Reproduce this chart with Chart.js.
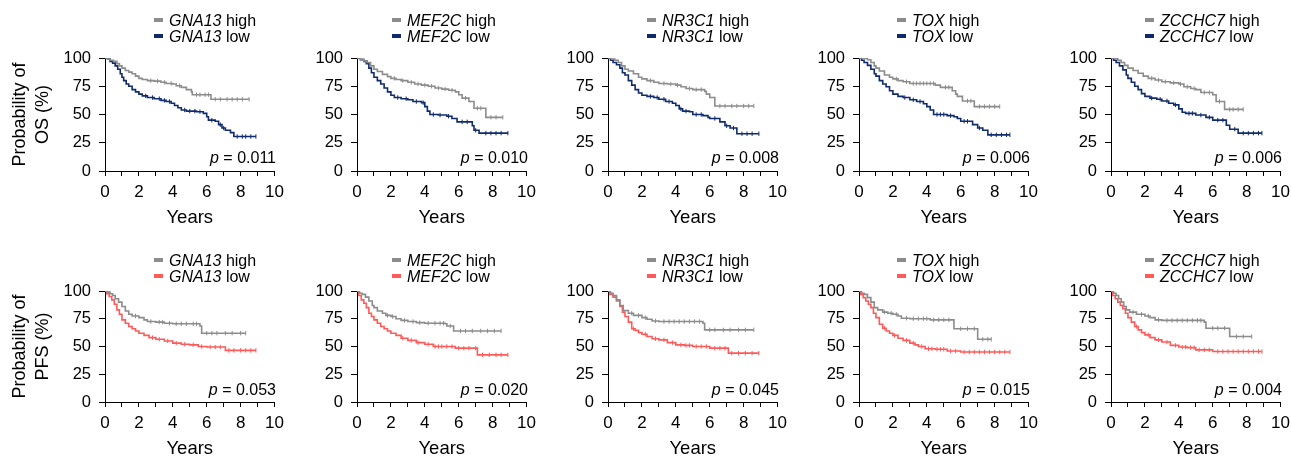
<!DOCTYPE html>
<html>
<head>
<meta charset="utf-8">
<script src="https://cdn.jsdelivr.net/npm/chart.js@4.4.1/dist/chart.umd.min.js"></script>
<style>
  html, body { margin: 0; padding: 0; background: #fff; overflow: hidden; }
  body { width: 1291px; height: 457px; position: relative; font-family: "Liberation Sans", Arial, sans-serif; color: #000; }
  canvas { position: absolute; }
  .leg { position: absolute; font-size: 16px; line-height: 16px; white-space: nowrap; }
  .sw { display: inline-block; width: 9px; height: 4px; margin-right: 6px; vertical-align: middle; position: relative; top: -1px; }
  .pv { position: absolute; font-size: 16px; line-height: 16px; text-align: right; width: 120px; white-space: nowrap; }
</style>
</head>
<body>
<script>
// ---------------- DATA ----------------
const genes = ['GNA13', 'MEF2C', 'NR3C1', 'TOX', 'ZCCHC7'];
const osP = ['0.011', '0.010', '0.008', '0.006', '0.006'];
const pfsP = ['0.053', '0.020', '0.045', '0.015', '0.004'];
const xTicks = [0, 2, 4, 6, 8, 10];
const yTicks = [0, 25, 50, 75, 100];

// Kaplan–Meier step points [years, % surviving]; censor marks in years
const osGNA13High = [[0,100],[0.15,99],[0.3,98],[0.5,97],[0.7,95],[0.85,93],[1.0,91],[1.2,89],[1.4,87.5],[1.6,86],[1.8,84],[2.0,82],[2.2,81],[2.5,80],[2.9,79.5],[3.3,78.5],[3.6,77.5],[4.0,77],[4.2,75.5],[4.5,74],[4.8,72],[5.1,70],[5.15,67.5],[6.25,63.5],[8.5,63.5]];
const osGNA13HighC = [2.7,3.1,3.5,3.9,4.4,5.4,5.6,5.9,6.1,6.5,6.8,7.2,7.5,7.8,8.1,8.5];
const osGNA13Low = [[0,100],[0.15,99],[0.3,97],[0.45,95.5],[0.6,93],[0.75,90],[0.9,86],[1.0,83],[1.1,80],[1.25,77],[1.4,75],[1.6,72],[1.8,70],[2.0,68],[2.2,66.5],[2.5,65],[2.9,64],[3.3,62.5],[3.6,61.5],[3.9,60],[4.1,58],[4.3,56],[4.5,54],[4.8,53],[5.4,52.5],[5.8,51],[6.0,48],[6.1,45],[6.5,44],[6.7,41],[6.9,38],[7.1,36],[7.4,34],[7.6,30.5],[8.9,30.5]];
const osGNA13LowC = [2.4,2.8,3.2,3.5,3.8,4.7,5.0,5.3,5.6,6.3,6.8,7.0,7.8,8.1,8.3,8.6,8.9];

const osMEF2CHigh = [[0,100],[0.2,99],[0.4,97.5],[0.6,96],[0.8,93],[1.0,90],[1.2,88],[1.5,85.5],[1.8,83.5],[2.0,82],[2.3,81],[2.6,80],[3.0,78.5],[3.4,77],[3.8,76],[4.2,75],[4.6,73.5],[5.0,72.5],[5.4,71.5],[5.8,70],[6.0,67.5],[6.2,64.5],[6.6,61.5],[6.9,55.5],[7.6,47.5],[8.6,47.5]];
const osMEF2CHighC = [2.2,2.7,3.2,3.6,4.0,4.4,4.8,5.2,5.6,6.4,7.1,7.3,7.9,8.2,8.6];
const osMEF2CLow = [[0,100],[0.2,98.5],[0.4,97],[0.55,95],[0.7,91],[0.85,87],[1.0,83],[1.2,80],[1.4,77],[1.6,73.5],[1.8,70],[2.0,67],[2.2,65],[2.6,64],[3.0,63],[3.3,61.5],[3.8,60.5],[4.0,57],[4.15,53],[4.3,50],[4.8,49.5],[5.3,48.5],[5.6,46.5],[5.9,43.5],[6.8,40],[6.9,36],[7.2,33.5],[8.9,33.5]];
const osMEF2CLowC = [2.4,2.9,3.5,3.9,4.5,4.9,5.4,6.2,6.5,7.0,7.6,7.9,8.2,8.5,8.9];

const osNR3C1High = [[0,100],[0.2,99],[0.4,98],[0.6,96],[0.8,93],[1.0,90],[1.2,88.5],[1.5,86],[1.8,83],[2.0,81.5],[2.3,80],[2.7,78.5],[3.0,77.5],[3.5,77],[4.0,76],[4.3,74.5],[4.6,73],[5.0,72],[5.7,70.5],[5.8,68],[6.0,65],[6.3,57.5],[8.6,57.5]];
const osNR3C1HighC = [2.5,3.3,3.7,4.1,4.8,5.2,5.5,6.6,6.9,7.3,7.6,8.0,8.3,8.6];
const osNR3C1Low = [[0,100],[0.15,98],[0.3,96],[0.5,94],[0.7,91],[0.85,87],[1.0,85],[1.2,80],[1.4,76],[1.6,72],[1.8,69],[2.0,67],[2.3,66],[2.7,65],[3.0,63.5],[3.4,61.5],[3.8,60],[4.0,58],[4.2,55],[4.4,53],[4.8,52.5],[5.0,50],[5.6,49],[5.9,47.5],[6.0,46.5],[6.6,43.5],[6.9,40],[7.2,38],[7.6,33],[8.9,33]];
const osNR3C1LowC = [2.5,2.9,3.3,3.6,4.3,4.6,5.2,5.5,6.3,7.0,7.4,7.9,8.2,8.5,8.9];

const osTOXHigh = [[0,100],[0.3,99.5],[0.5,98.5],[0.7,96],[0.9,93],[1.0,91],[1.2,88.5],[1.5,85],[1.8,83],[2.0,81.5],[2.3,80],[2.6,79],[3.0,77.5],[4.5,76],[4.8,74],[5.5,71],[5.7,68],[5.8,66],[6.1,62],[6.8,57],[8.3,57]];
const osTOXHighC = [2.2,2.8,3.2,3.4,3.6,3.8,4.0,4.2,4.4,5.1,5.3,6.4,6.6,7.1,7.4,7.7,8.0,8.3];
const osTOXLow = [[0,100],[0.15,98],[0.3,96],[0.5,93.5],[0.7,90],[0.9,86],[1.0,84],[1.2,80],[1.4,77],[1.6,74.5],[1.8,71],[2.0,68],[2.3,66],[2.6,65],[3.0,63],[3.4,61.5],[3.8,59.5],[4.0,57],[4.2,54],[4.4,50],[5.2,49],[5.6,48],[5.8,46.5],[6.0,44],[6.7,41],[7.0,38],[7.3,36],[7.6,32],[8.9,32]];
const osTOXLowC = [2.7,3.2,3.6,4.6,4.8,5.0,5.4,6.2,6.4,7.1,7.8,8.1,8.4,8.7,8.9];

const osZCCHC7High = [[0,100],[0.2,99.5],[0.4,98],[0.6,96],[0.8,93.5],[1.0,91],[1.3,89],[1.6,86.5],[1.9,84],[2.2,82],[2.6,80.5],[3.0,79],[3.5,78],[4.0,77],[4.3,74.5],[4.7,73],[5.0,72],[5.3,69.5],[6.0,67.5],[6.2,61.5],[6.7,54.5],[7.8,54.5]];
const osZCCHC7HighC = [2.4,2.8,3.2,3.7,4.1,4.5,4.9,5.5,5.8,6.4,7.0,7.2,7.5,7.8];
const osZCCHC7Low = [[0,100],[0.15,98],[0.3,96],[0.5,93],[0.7,89.5],[0.9,85],[1.0,82],[1.2,78.5],[1.4,75],[1.6,72],[1.8,68.5],[2.0,66],[2.3,64.5],[2.7,63.5],[3.0,62],[3.4,60],[3.7,58.5],[4.0,55],[4.2,52],[4.4,51],[5.0,49.5],[5.6,47.5],[6.0,45],[6.8,40.5],[7.0,37],[7.5,33.5],[8.9,33.5]];
const osZCCHC7LowC = [2.4,2.9,3.3,3.8,4.6,4.8,5.3,5.8,6.3,6.6,7.3,7.8,8.1,8.4,8.7,8.9];

const pfsGNA13High = [[0,100],[0.15,99],[0.3,97.5],[0.45,96],[0.6,93],[0.8,90],[1.0,86],[1.2,82],[1.4,79],[1.6,77.5],[2.0,76],[2.3,74],[2.5,72.5],[3.0,72],[3.5,71],[4.0,70.5],[5.6,68.5],[5.7,62],[8.3,62]];
const pfsGNA13HighC = [1.8,2.7,3.2,3.4,3.8,4.2,4.5,4.8,5.2,5.4,6.0,6.3,6.6,7.1,7.5,8.0,8.3];
const pfsGNA13Low = [[0,100],[0.1,97.5],[0.25,95],[0.4,92],[0.55,88],[0.7,83],[0.85,79],[1.0,74],[1.2,71],[1.4,68],[1.6,66],[1.8,64],[2.0,62],[2.3,60],[2.6,58],[3.0,56.5],[3.5,55],[4.0,53],[4.5,52],[5.0,51.5],[5.5,50],[6.0,49.5],[7.1,46.5],[8.9,46.5]];
const pfsGNA13LowC = [2.8,3.2,3.7,4.2,4.7,5.2,5.7,6.2,6.5,6.8,7.3,7.6,8.0,8.3,8.6,8.9];

const pfsMEF2CHigh = [[0,100],[0.15,98],[0.3,97],[0.5,94.5],[0.7,91],[0.9,87],[1.0,85],[1.2,82],[1.5,80],[1.7,78],[2.0,77],[2.3,75],[2.6,73.5],[3.0,72.5],[3.5,71.5],[4.0,71],[5.2,70.5],[5.3,68.5],[5.7,64],[8.5,64]];
const pfsMEF2CHighC = [1.8,2.1,2.8,3.3,3.7,4.2,4.6,4.9,5.1,5.5,6.1,6.4,6.8,7.3,7.7,8.1,8.5];
const pfsMEF2CLow = [[0,100],[0.1,96],[0.25,92],[0.4,89],[0.55,85],[0.7,80],[0.85,77],[1.0,74],[1.2,71],[1.4,68],[1.6,66],[1.8,64],[2.0,62],[2.3,60],[2.6,57.5],[3.0,55.5],[3.5,53.5],[4.0,52],[4.5,50],[5.8,48.5],[7.1,42.5],[8.9,42.5]];
const pfsMEF2CLowC = [2.7,3.2,3.6,4.2,4.6,4.8,5.0,5.3,5.6,6.0,6.3,6.6,7.0,7.4,7.8,8.2,8.5,8.9];

const pfsNR3C1High = [[0,100],[0.15,98],[0.3,96],[0.5,92],[0.7,87],[0.9,82.5],[1.2,80],[1.5,78],[2.0,76],[2.3,74.5],[2.6,73],[3.0,72.5],[5.6,71],[5.7,65],[8.6,65]];
const pfsNR3C1HighC = [1.4,1.8,2.2,2.8,3.3,3.6,3.9,4.2,4.5,4.8,5.1,5.4,6.0,6.3,6.8,7.2,7.7,8.1,8.6];
const pfsNR3C1Low = [[0,100],[0.1,97],[0.3,94.5],[0.5,91],[0.7,86],[0.85,81],[1.0,77],[1.2,72],[1.4,66],[1.6,64.5],[1.8,62.5],[2.0,61],[2.3,59],[2.6,57],[3.0,56],[3.5,53.5],[4.0,51.5],[4.5,51],[5.0,50],[6.0,48.5],[7.1,44],[8.9,44]];
const pfsNR3C1LowC = [1.5,2.2,2.8,3.3,3.8,4.3,4.6,4.8,5.2,5.5,5.8,6.3,6.6,6.9,7.3,7.7,8.1,8.5,8.9];

const pfsTOXHigh = [[0,100],[0.15,98],[0.3,97],[0.5,94],[0.7,90],[0.9,85],[1.1,83],[1.4,81],[1.7,80],[2.0,79],[2.3,77.5],[2.5,75.5],[3.0,75],[4.2,74],[5.6,66],[7.0,56.5],[7.8,56.5]];
const pfsTOXHighC = [1.5,1.9,2.2,2.8,3.2,3.5,3.8,4.0,4.4,4.7,5.0,5.3,6.0,6.4,6.8,7.3,7.6,7.8];
const pfsTOXLow = [[0,100],[0.1,97],[0.25,94],[0.4,91],[0.55,88],[0.7,85],[0.85,80],[1.0,76],[1.2,70],[1.4,66.5],[1.6,64],[1.8,62],[2.0,60],[2.3,57.5],[2.6,55.5],[3.0,53],[3.3,51.5],[3.5,50],[3.9,48],[4.5,47.5],[5.2,46],[6.0,45],[8.9,45]];
const pfsTOXLowC = [1.5,2.1,2.8,3.2,3.7,4.1,4.3,4.6,4.8,5.0,5.4,5.7,6.2,6.5,6.8,7.1,7.4,7.7,8.0,8.3,8.6,8.9];

const pfsZCCHC7High = [[0,100],[0.15,98],[0.3,96],[0.45,93],[0.6,90],[0.75,86],[0.9,83],[1.1,81],[1.5,79],[2.0,77.5],[2.3,76],[2.6,74],[3.0,73.5],[5.5,72],[5.6,66.5],[7.0,59],[8.3,59]];
const pfsZCCHC7HighC = [1.3,1.8,2.2,2.8,3.3,3.6,3.9,4.2,4.5,4.8,5.1,5.3,6.0,6.3,6.7,7.4,7.8,8.3];
const pfsZCCHC7Low = [[0,100],[0.1,96],[0.25,93],[0.4,90],[0.55,87],[0.7,84],[0.85,80],[1.0,76],[1.2,72],[1.4,68],[1.6,65],[1.8,62.5],[2.0,60.5],[2.3,58],[2.6,56],[3.0,54],[3.5,51],[4.0,49.5],[4.5,49],[5.0,47],[6.0,45.5],[8.9,45.5]];
const pfsZCCHC7LowC = [1.5,2.2,2.8,3.3,3.8,4.2,4.4,4.7,4.9,5.2,5.5,5.8,6.3,6.6,6.9,7.2,7.5,7.8,8.1,8.4,8.7,8.9];

// ---------------- LAYOUT / STYLE ----------------
const FONT = '"Liberation Sans", Arial, sans-serif';
Chart.defaults.font.family = FONT;
Chart.defaults.color = '#000';

const HIGH_COLOR = '#8c8c8c';
const OS_LOW_COLOR = '#0f2b6e';
const PFS_LOW_COLOR = '#ff5a5a';

const plotLeft = [105, 357, 608, 859, 1111];
const legendLeft = [154, 392, 647, 897, 1145];
const PLOT_W = 170;
const rows = [
  { key: 'os', label: 'OS', top: 0, height: 230, padTop: 58, xH: 59, titlePad: 1, legY: [20.7, 36.7], pY: 158, p: osP, low: OS_LOW_COLOR },
  { key: 'pfs', label: 'PFS', top: 230, height: 230, padTop: 61, xH: 58, titlePad: 0, legY: [260.7, 276.7], pY: 390, p: pfsP, low: PFS_LOW_COLOR }
];
const seriesByRow = {
  os: [
    [osGNA13High, osGNA13HighC, osGNA13Low, osGNA13LowC],
    [osMEF2CHigh, osMEF2CHighC, osMEF2CLow, osMEF2CLowC],
    [osNR3C1High, osNR3C1HighC, osNR3C1Low, osNR3C1LowC],
    [osTOXHigh, osTOXHighC, osTOXLow, osTOXLowC],
    [osZCCHC7High, osZCCHC7HighC, osZCCHC7Low, osZCCHC7LowC]
  ],
  pfs: [
    [pfsGNA13High, pfsGNA13HighC, pfsGNA13Low, pfsGNA13LowC],
    [pfsMEF2CHigh, pfsMEF2CHighC, pfsMEF2CLow, pfsMEF2CLowC],
    [pfsNR3C1High, pfsNR3C1HighC, pfsNR3C1Low, pfsNR3C1LowC],
    [pfsTOXHigh, pfsTOXHighC, pfsTOXLow, pfsTOXLowC],
    [pfsZCCHC7High, pfsZCCHC7HighC, pfsZCCHC7Low, pfsZCCHC7LowC]
  ]
};

function survAt(steps, t) {
  let s = steps[0][1];
  for (const [x, y] of steps) { if (x <= t) s = y; else break; }
  return s;
}

function lineDs(steps, color) {
  return {
    type: 'line',
    data: steps.map(([x, y]) => ({ x, y })),
    stepped: 'before',
    borderColor: color,
    borderWidth: 1.6,
    pointRadius: 0,
    fill: false,
    order: 2
  };
}
function censorDs(steps, times, color) {
  return {
    type: 'line',
    data: times.map(t => ({ x: t, y: survAt(steps, t) })),
    showLine: false,
    pointStyle: 'line',
    rotation: 90,
    pointRadius: 2.2,
    pointBorderWidth: 1,
    borderColor: color,
    pointBorderColor: color,
    order: 1
  };
}

rows.forEach((row, r) => {
  genes.forEach((gene, c) => {
    const [hi, hiC, lo, loC] = seriesByRow[row.key][c];
    const cv = document.createElement('canvas');
    const left = plotLeft[c] - 105;
    const W = 105 + PLOT_W + 15;
    cv.width = W; cv.height = row.height;
    cv.style.left = left + 'px'; cv.style.top = row.top + 'px';
    cv.style.width = W + 'px'; cv.style.height = row.height + 'px';
    document.body.appendChild(cv);

    new Chart(cv, {
      type: 'line',
      data: {
        datasets: [
          lineDs(hi, HIGH_COLOR),
          lineDs(lo, row.low),
          censorDs(hi, hiC, HIGH_COLOR),
          censorDs(lo, loC, row.low)
        ]
      },
      options: {
        responsive: false,
        animation: false,
        events: [],
        layout: { padding: { top: row.padTop, right: 15, left: 0, bottom: 0 } },
        plugins: { legend: { display: false }, tooltip: { enabled: false } },
        scales: {
          x: {
            type: 'linear', min: 0, max: 10, offset: false,
            afterFit: s => { s.height = row.xH; },
            ticks: {
              stepSize: 1, autoSkip: false, maxRotation: 0, padding: 6,
              font: { size: 17 }, color: '#000',
              callback: v => (xTicks.includes(v) ? String(v) : '')
            },
            grid: { drawOnChartArea: false, drawTicks: true, tickLength: 5, tickColor: '#000', tickWidth: 1 },
            border: { display: true, color: '#000', width: 1 },
            title: { display: true, text: 'Years', font: { size: 18.5 }, color: '#000', padding: { top: 0, bottom: row.titlePad } }
          },
          y: {
            type: 'linear', min: 0, max: 100,
            afterFit: s => { s.width = 105; },
            afterBuildTicks: s => { s.ticks = yTicks.map(v => ({ value: v })); },
            ticks: { padding: 8, font: { size: 16.5 }, color: '#000' },
            grid: { drawOnChartArea: false, drawTicks: true, tickLength: 6, tickColor: '#000', tickWidth: 1 },
            border: { display: true, color: '#000', width: 1 },
            title: {
              display: c === 0,
              text: ['Probability of', row.label + ' (%)'],
              font: { size: 18, lineHeight: 1.3 },
              color: '#000',
              padding: { top: 8, bottom: 0 }
            }
          }
        }
      }
    });

    // legend
    const labels = ['high', 'low'];
    const colors = [HIGH_COLOR, row.low];
    labels.forEach((lab, i) => {
      const d = document.createElement('div');
      d.className = 'leg';
      d.style.left = legendLeft[c] + 'px';
      d.style.top = (row.legY[i] - 8) + 'px';
      d.innerHTML = '<span class="sw" style="background:' + colors[i] + '"></span><i>' + gene + '</i> ' + lab;
      document.body.appendChild(d);
    });
    // p value
    const p = document.createElement('div');
    p.className = 'pv';
    p.style.left = (plotLeft[c] + PLOT_W + 1 - 120) + 'px';
    p.style.top = (row.pY - 8) + 'px';
    p.innerHTML = '<i>p</i> = ' + row.p[c];
    document.body.appendChild(p);
  });
});
</script>
</body>
</html>
